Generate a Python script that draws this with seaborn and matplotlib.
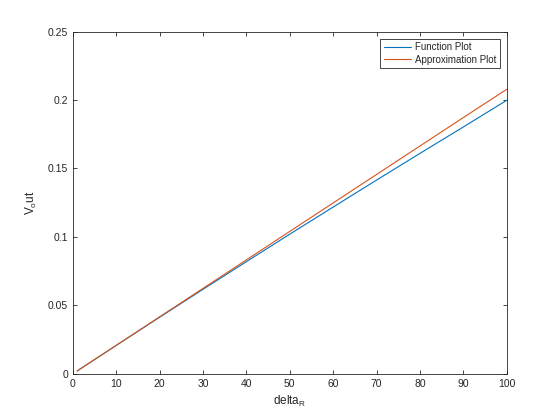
import matplotlib

matplotlib.use("Agg")

import matplotlib.pyplot as plt
import pandas as pd
import seaborn as sns

delta_r = [1, 10, 20, 30, 40, 50, 60, 70, 80, 90, 100]
function_vals = [0.00208, 0.0207, 0.0413, 0.0617, 0.0819, 0.1020,
                 0.1218, 0.1415, 0.1610, 0.1803, 0.1998]
approx_vals = [0.00208, 0.0208, 0.0416, 0.0624, 0.0832, 0.1040,
               0.1248, 0.1456, 0.1664, 0.1872, 0.2078]

x_ticks = [0, 10, 20, 30, 40, 50, 60, 70, 80, 90, 100]
y_ticks = [0, 0.05, 0.1, 0.15, 0.2, 0.25]
y_tick_labels = ["0", "0.05", "0.1", "0.15", "0.2", "0.25"]

df = pd.DataFrame({
    "delta_R": delta_r * 2,
    "Vout": function_vals + approx_vals,
    "series": ["Function Plot"] * len(delta_r) + ["Approximation Plot"] * len(delta_r),
})

sns.set_style("ticks")
plt.rcParams["font.family"] = ["Liberation Sans", "DejaVu Sans"]
plt.rcParams["xtick.direction"] = "in"
plt.rcParams["ytick.direction"] = "in"

fig = plt.figure(figsize=(5.6, 4.2), dpi=100)
ax = fig.add_axes([0.13, 0.11, 0.775, 0.815])

sns.lineplot(
    data=df,
    x="delta_R",
    y="Vout",
    hue="series",
    palette={"Function Plot": "#0072BD", "Approximation Plot": "#D95319"},
    linewidth=0.8,
    ax=ax,
)

ax.set_xlim(0, 100)
ax.set_ylim(0, 0.25)
ax.set_xticks(x_ticks)
ax.set_yticks(y_ticks)
ax.set_yticklabels(y_tick_labels)
ax.tick_params(labelsize=7.5, length=3, width=0.6, color="#262626",
               labelcolor="#262626", top=True, right=True)
for side in ax.spines.values():
    side.set_linewidth(0.6)
    side.set_color("#262626")

ax.set_xlabel("delta$_\\mathregular{R}$", fontsize=8.5, color="#262626")
ax.set_ylabel("V$_\\mathregular{o}$ut", fontsize=8.5, color="#262626", labelpad=6)

leg = ax.legend(loc="upper right", fontsize=7, frameon=True, fancybox=False,
                handlelength=2.8, borderpad=0.35, labelspacing=0.25,
                borderaxespad=0.75, handletextpad=0.4)
leg.get_frame().set_edgecolor("#262626")
leg.get_frame().set_linewidth(0.6)
leg.get_frame().set_alpha(1)

fig.savefig("out.png", dpi=100)
plt.close(fig)
